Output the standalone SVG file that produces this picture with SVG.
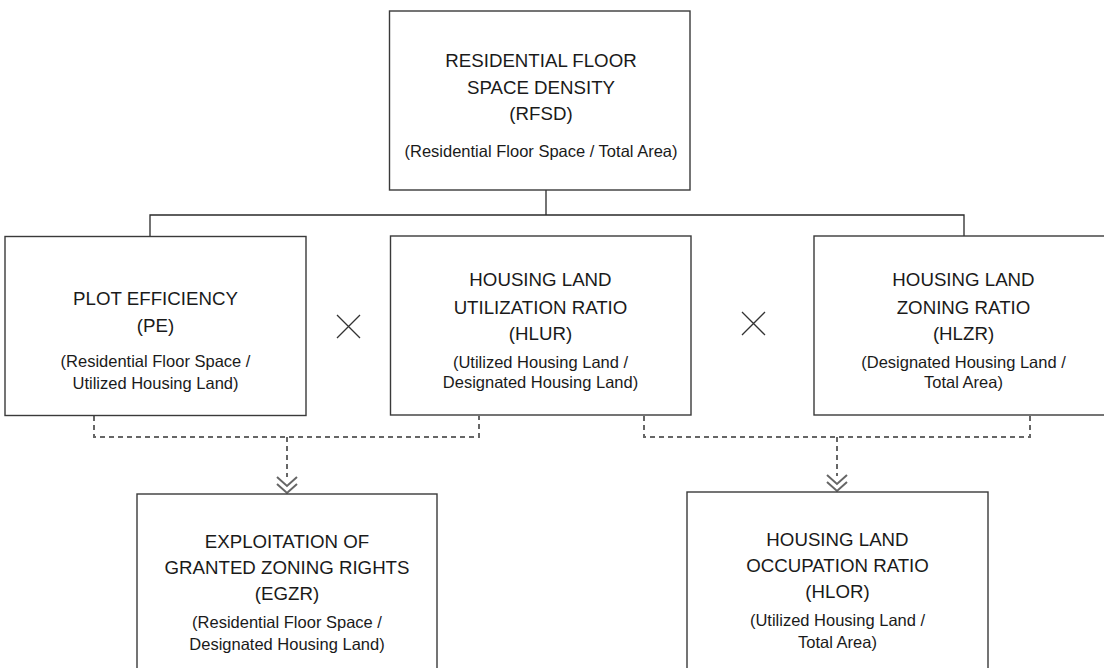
<svg xmlns="http://www.w3.org/2000/svg" width="1104" height="668" viewBox="0 0 1104 668">
<style>
.box{fill:#fff;stroke:#3a3a3a;stroke-width:1.4}
.t{font-family:"Liberation Sans",Arial,sans-serif;font-size:18.7px;fill:#1a1a1a;text-anchor:middle}
.s{font-family:"Liberation Sans",Arial,sans-serif;font-size:16.5px;fill:#1a1a1a;text-anchor:middle}
.solid{fill:none;stroke:#2a2a2a;stroke-width:1.3}
.dash{fill:none;stroke:#666;stroke-width:2;stroke-dasharray:5 4}
.chev{fill:none;stroke:#666;stroke-width:2}
.x{stroke:#333;stroke-width:1.3}
</style>
<rect width="1104" height="668" fill="#fff"/>
<g id="connectors">
<path class="solid" d="M546 190V215M150 236V215H964V236"/>
<path class="dash" d="M94 416V437H479V416M287 437V477"/>
<path class="dash" d="M644 416V437H1030V416M837 437V476"/>
<polyline class="chev" points="277,477 287,486 297,477"/>
<polyline class="chev" points="277,484 287,493 297,484"/>
<polyline class="chev" points="827,475 837,484 847,475"/>
<polyline class="chev" points="827,482 837,491 847,482"/>
<path class="x" d="M337 315L360 338M360 315L337 338"/>
<path class="x" d="M742 312L765 335M765 312L742 335"/>
</g>
<g id="rfsd">
<rect class="box" x="389.5" y="11" width="300.5" height="179"/>
<text class="t" x="541" y="67">RESIDENTIAL FLOOR</text>
<text class="t" x="541" y="93.5">SPACE DENSITY</text>
<text class="t" x="541" y="120">(RFSD)</text>
<text class="s" x="541" y="157">(Residential Floor Space / Total Area)</text>
</g>
<g id="pe">
<rect class="box" x="5" y="236.5" width="301" height="179"/>
<text class="t" x="155.5" y="305">PLOT EFFICIENCY</text>
<text class="t" x="155.5" y="332">(PE)</text>
<text class="s" x="155.5" y="367">(Residential Floor Space /</text>
<text class="s" x="155.5" y="388.5">Utilized Housing Land)</text>
</g>
<g id="hlur">
<rect class="box" x="390.5" y="236" width="300.5" height="179"/>
<text class="t" x="540.5" y="286">HOUSING LAND</text>
<text class="t" x="540.5" y="314">UTILIZATION RATIO</text>
<text class="t" x="540.5" y="340">(HLUR)</text>
<text class="s" x="540.5" y="367.5">(Utilized Housing Land /</text>
<text class="s" x="540.5" y="388">Designated Housing Land)</text>
</g>
<g id="hlzr">
<rect class="box" x="814" y="236" width="301" height="179"/>
<text class="t" x="963.5" y="286">HOUSING LAND</text>
<text class="t" x="963.5" y="314">ZONING RATIO</text>
<text class="t" x="963.5" y="340">(HLZR)</text>
<text class="s" x="963.5" y="367.5">(Designated Housing Land /</text>
<text class="s" x="963.5" y="388">Total Area)</text>
</g>
<g id="egzr">
<rect class="box" x="137" y="494" width="300" height="190"/>
<text class="t" x="287" y="548">EXPLOITATION OF</text>
<text class="t" x="287" y="574">GRANTED ZONING RIGHTS</text>
<text class="t" x="287" y="600">(EGZR)</text>
<text class="s" x="287" y="628">(Residential Floor Space /</text>
<text class="s" x="287" y="650">Designated Housing Land)</text>
</g>
<g id="hlor">
<rect class="box" x="687" y="492" width="301" height="190"/>
<text class="t" x="837.5" y="546">HOUSING LAND</text>
<text class="t" x="837.5" y="572">OCCUPATION RATIO</text>
<text class="t" x="837.5" y="598">(HLOR)</text>
<text class="s" x="837.5" y="626">(Utilized Housing Land /</text>
<text class="s" x="837.5" y="648">Total Area)</text>
</g>
</svg>
